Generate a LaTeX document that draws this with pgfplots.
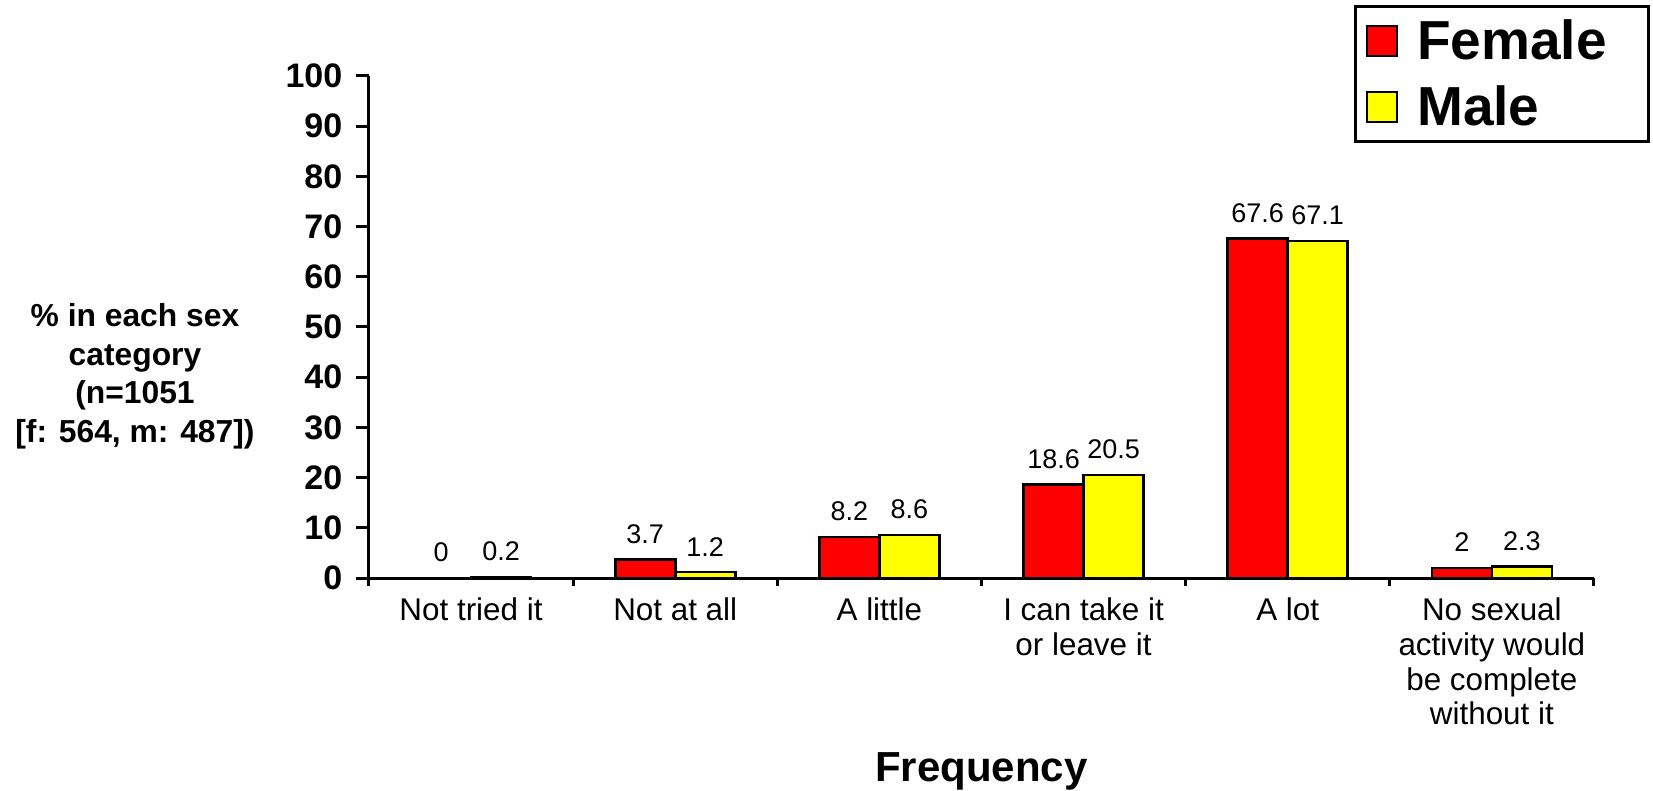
\documentclass[border=0pt]{standalone}
\usepackage{pgfplots}
\pgfplotsset{compat=1.18}
\usepackage{fontspec}
\setmainfont{Liberation Sans}
\definecolor{fem}{RGB}{255,0,0}
\definecolor{mal}{RGB}{255,255,0}
\begin{document}
\begin{tikzpicture}
\begin{axis}[
  scale only axis, width=612.5pt, height=251pt,
  ybar=0pt, bar width=30pt,
  xmin=-0.5, xmax=5.5, ymin=0, ymax=100,
  clip=false,
  axis lines*=left,
  axis line style={line width=1.5pt, black},
  tick align=outside,
  xtick={0,1,2,3,4,5},
  xticklabels={Not tried it, Not at all, A little, {I can take it\\or leave it}, A lot, {No sexual\\activity would\\be complete\\without it}},
  xticklabel style={align=center, font=\fontsize{15.7}{17.4}\selectfont},
  minor xtick={-0.5,0.5,1.5,2.5,3.5,4.5,5.5},
  major x tick style={draw=none},
  minor x tick style={line width=1.5pt, black},
  minor tick length=4pt,
  major tick length=6.3pt,
  ytick={0,10,...,100},
  y tick style={line width=1.5pt, black},
  yticklabel style={font=\bfseries\fontsize{17}{17}\selectfont, xshift=-3.5pt},
  /pgf/number format/assume math mode=true,
  ylabel={\% in each sex\\category\\(n=1051\\{[}f: 564, m: 487{]})},
  ylabel style={rotate=-90, at={(rel axis cs:-0.191,0.402)}, anchor=center, align=center, font=\bfseries\fontsize{15.9}{19.3}\selectfont},
  xlabel={Frequency},
  xlabel style={at={(rel axis cs:0.5,-0.386)}, anchor=center, inner sep=0pt, font=\bfseries\fontsize{21}{21}\selectfont},
  nodes near coords,
  every node near coord/.append style={font=\fontsize{13.5}{13.5}\selectfont, yshift=4pt, black},
  legend style={at={(rel axis cs:1.0457,1.1414)}, anchor=north east, draw=black, line width=1.5pt,
    font=\bfseries\fontsize{27.5}{27.5}\selectfont, row sep=7.8pt, inner xsep=5pt, inner ysep=4.4pt},
  legend cell align=left,
]
\addplot[fill=fem, draw=black, line width=1.3pt,
  legend image code/.code={\draw[fill=fem, draw=black, line width=1.2pt] (0pt,-7.5pt) rectangle (15pt,7.5pt); \path (22.4pt,0pt);}]
  coordinates {(0,0) (1,3.7) (2,8.2) (3,18.6) (4,67.6) (5,2)};
\addlegendentry{\makebox[108.6pt][l]{Female}}
\addplot[fill=mal, draw=black, line width=1.3pt,
  legend image code/.code={\draw[fill=mal, draw=black, line width=1.2pt] (0pt,-7.5pt) rectangle (15pt,7.5pt); \path (22.4pt,0pt);}]
  coordinates {(0,0.2) (1,1.2) (2,8.6) (3,20.5) (4,67.1) (5,2.3)};
\addlegendentry{\makebox[108.6pt][l]{Male}}
\path (rel axis cs:-0.3012,-0.4243) rectangle (rel axis cs:1.0482,1.1514);
\end{axis}
\end{tikzpicture}
\end{document}
